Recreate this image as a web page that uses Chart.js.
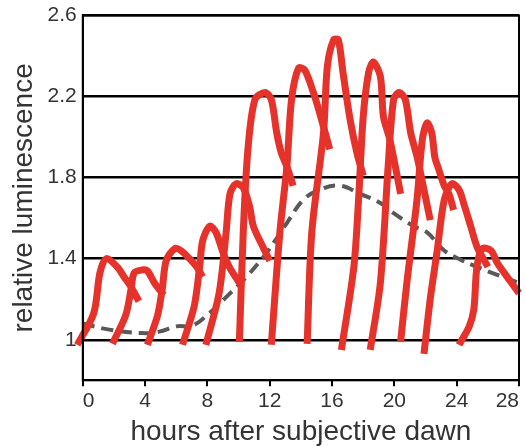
<!DOCTYPE html>
<html>
<head>
<meta charset="utf-8">
<script src="https://cdn.jsdelivr.net/npm/chart.js@4.4.1/dist/chart.umd.min.js"></script>
<style>
  html, body { margin: 0; padding: 0; background: #fff; }
  #wrap { width: 525px; height: 446px; }
</style>
</head>
<body>
<div id="wrap"><canvas id="lumChart" width="525" height="446"></canvas></div>
<script>
// tick labels
const xTicks = [0, 4, 8, 12, 16, 20, 24, 28];
const yTicks = [1, 1.4, 1.8, 2.2, 2.6];

// red traces, one per sampling start (hours, relative luminescence)
const c1Hours = [-0.35, 0.7, 1.1, 1.5, 2.2, 2.65, 3.1, 3.6];
const c1Lum   = [0.975, 1.13, 1.33, 1.40, 1.36, 1.31, 1.26, 1.19];
const c2Hours = [1.9, 2.75, 3.1, 3.3, 3.85, 4.15, 4.6, 5.2];
const c2Lum   = [0.98, 1.12, 1.25, 1.33, 1.345, 1.34, 1.28, 1.22];
const c3Hours = [4.15, 4.8, 5.1, 5.35, 5.9, 6.3, 6.85, 7.3, 7.7];
const c3Lum   = [0.975, 1.12, 1.25, 1.39, 1.45, 1.44, 1.40, 1.36, 1.31];
const c4Hours = [6.4, 7.15, 7.5, 7.7, 8.15, 8.55, 9.0, 9.4, 10.05];
const c4Lum   = [0.975, 1.165, 1.36, 1.49, 1.56, 1.53, 1.43, 1.36, 1.28];
const c5Hours = [7.9, 8.75, 9.2, 9.45, 9.85, 10.3, 10.7, 10.95, 11.55, 12.0];
const c5Lum   = [0.975, 1.23, 1.53, 1.72, 1.77, 1.75, 1.66, 1.56, 1.46, 1.39];
const c6Hours = [10.05, 10.3, 10.6, 11.05, 11.7, 12.1, 12.45, 12.75, 13.1, 13.5];
const c6Lum   = [0.99, 1.53, 1.94, 2.185, 2.22, 2.185, 2.02, 1.92, 1.855, 1.76];
const c7Hours = [12.1, 12.65, 13.1, 13.4, 13.85, 14.25, 14.8, 15.2, 15.85];
const c7Lum   = [0.975, 1.53, 1.855, 2.185, 2.34, 2.33, 2.22, 2.12, 1.94];
const c8Hours = [14.4, 14.7, 15.45, 15.7, 16.1, 16.4, 16.7, 17.15, 17.6, 18.0];
const c8Lum   = [0.98, 1.53, 2.02, 2.35, 2.48, 2.48, 2.32, 2.09, 1.92, 1.81];
const c9Hours = [16.6, 17.4, 17.7, 18.0, 18.35, 18.65, 19.1, 19.3, 19.7, 20.15, 20.4];
const c9Lum   = [0.95, 1.36, 1.69, 2.10, 2.32, 2.37, 2.30, 2.10, 1.99, 1.82, 1.72];
const c10Hours = [18.45, 19.1, 19.6, 19.95, 20.3, 20.7, 21.05, 21.45, 21.9, 22.3];
const c10Lum   = [0.95, 1.28, 1.855, 2.185, 2.22, 2.185, 2.02, 1.905, 1.74, 1.59];
const c11Hours = [20.4, 20.8, 21.45, 21.8, 22.1, 22.4, 22.6, 22.85, 23.2, 23.5, 23.8];
const c11Lum   = [0.99, 1.28, 1.69, 1.99, 2.07, 2.02, 1.90, 1.84, 1.76, 1.72, 1.64];
const c12Hours = [21.9, 22.3, 22.75, 23.2, 23.7, 24.15, 24.5, 24.9, 25.3, 26.0];
const c12Lum   = [0.93, 1.20, 1.44, 1.69, 1.77, 1.74, 1.66, 1.56, 1.46, 1.36];
const c13Hours = [24.15, 24.8, 25.1, 25.3, 25.65, 26.2, 26.6, 27.05, 28.0];
const c13Lum   = [0.975, 1.065, 1.15, 1.36, 1.45, 1.44, 1.38, 1.33, 1.23];

// grey dashed average
const avgHours = [0, 1.7, 3.8, 4.9, 6.0, 7.05, 8.1, 9.2, 10.5, 11.8, 13.1, 14.15, 15.2, 16.5, 17.8, 19.1, 19.95, 21.25, 22.1, 23.2, 24.25, 25.3, 26.6, 28];
const avgLum   = [1.08, 1.05, 1.033, 1.04, 1.066, 1.07, 1.13, 1.21, 1.31, 1.43, 1.576, 1.69, 1.74, 1.76, 1.72, 1.675, 1.625, 1.56, 1.53, 1.44, 1.395, 1.36, 1.32, 1.28];

const red = '#e5322a';
const textColor = '#333333';
const fontFamily = 'Arial, "Liberation Sans", Helvetica, sans-serif';

function toPoints(xs, ys) {
    return xs.map((x, i) => ({ x: x, y: ys[i] }));
}

const redTraces = [
    [c1Hours, c1Lum], [c2Hours, c2Lum], [c3Hours, c3Lum], [c4Hours, c4Lum],
    [c5Hours, c5Lum], [c6Hours, c6Lum], [c7Hours, c7Lum], [c8Hours, c8Lum],
    [c9Hours, c9Lum], [c10Hours, c10Lum], [c11Hours, c11Lum], [c12Hours, c12Lum],
    [c13Hours, c13Lum]
];

const datasets = redTraces.map(t => ({
    data: toPoints(t[0], t[1]),
    borderColor: red,
    borderWidth: 7,
    borderCapStyle: 'butt',
    borderJoinStyle: 'round',
    tension: 0.3,
    pointRadius: 0,
    clip: false,
    order: 0
}));

datasets.push({
    data: toPoints(avgHours, avgLum),
    borderColor: '#595959',
    borderWidth: 4,
    borderDash: [12, 7],
    tension: 0.4,
    pointRadius: 0,
    order: 1
});

// box around the plot area
const frame = {
    id: 'frame',
    afterDatasetsDraw(chart) {
        const a = chart.chartArea;
        const ctx = chart.ctx;
        ctx.save();
        ctx.strokeStyle = '#000';
        ctx.lineWidth = 2;
        ctx.strokeRect(a.left, a.top, a.right - a.left, a.bottom - a.top);
        ctx.restore();
    }
};

new Chart(document.getElementById('lumChart').getContext('2d'), {
    type: 'line',
    data: { datasets: datasets },
    plugins: [frame],
    options: {
        responsive: false,
        animation: false,
        layout: { padding: { left: 7, right: 6, top: 0, bottom: 0 } },
        plugins: {
            legend: { display: false },
            tooltip: { enabled: false }
        },
        scales: {
            x: {
                type: 'linear',
                min: 0,
                max: 28,
                afterBuildTicks: s => { s.ticks = xTicks.map(v => ({ value: v })); },
                grid: {
                    drawOnChartArea: false,
                    drawTicks: true,
                    tickLength: 6,
                    color: '#000',
                    lineWidth: 2
                },
                border: { display: true, color: '#000', width: 2 },
                ticks: {
                    color: textColor,
                    font: { family: fontFamily, size: 21 },
                    padding: 2,
                    align: 'inner',
                    maxRotation: 0
                },
                title: {
                    display: true,
                    text: 'hours after subjective dawn',
                    color: textColor,
                    font: { family: fontFamily, size: 28, lineHeight: 1.0 },
                    padding: { top: 2.5, bottom: 0 }
                }
            },
            y: {
                min: 0.8,
                max: 2.6,
                afterBuildTicks: s => { s.ticks = yTicks.map(v => ({ value: v })); },
                grid: {
                    color: '#000',
                    lineWidth: 2.5,
                    drawTicks: false
                },
                border: { display: true, color: '#000', width: 2 },
                ticks: {
                    color: textColor,
                    font: { family: fontFamily, size: 21, lineHeight: 0.9 },
                    padding: 6,
                    callback: v => String(+v.toFixed(1))
                },
                title: {
                    display: true,
                    text: 'relative luminescence',
                    color: textColor,
                    font: { family: fontFamily, size: 28 },
                    padding: { top: 0, bottom: 1 }
                }
            }
        }
    }
});
</script>
</body>
</html>
